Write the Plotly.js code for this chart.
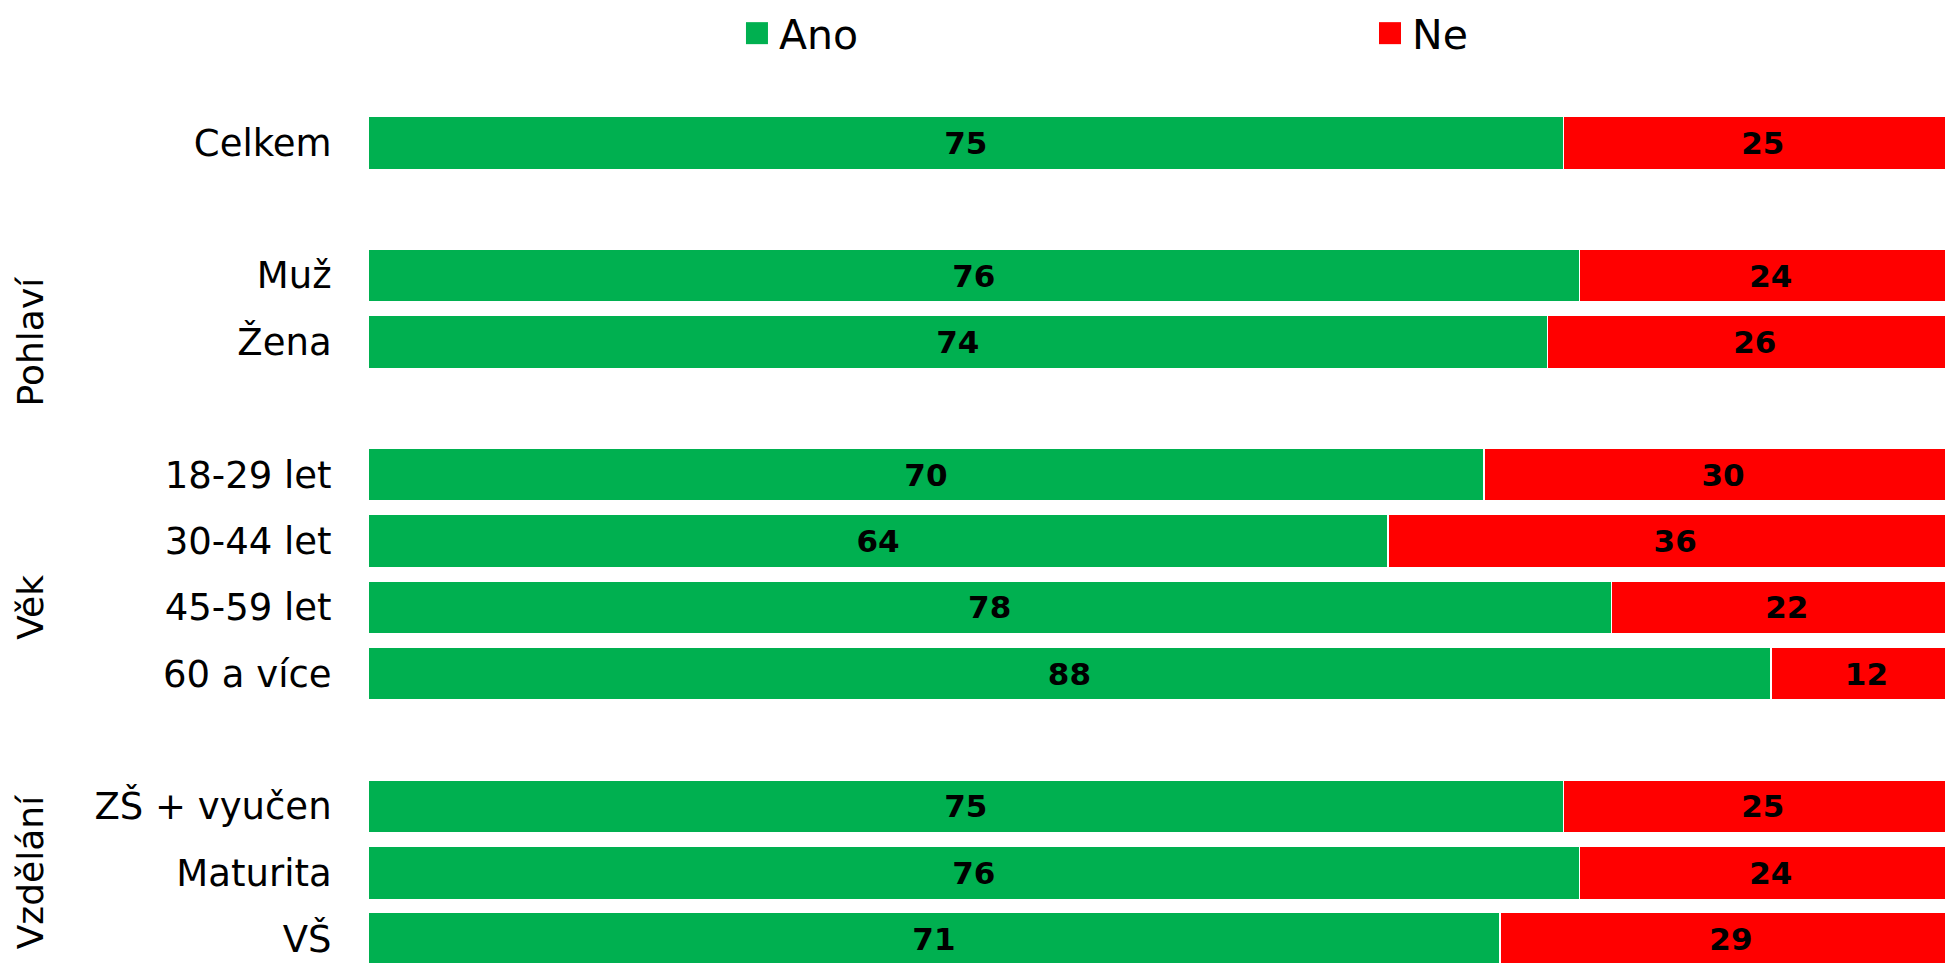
<!DOCTYPE html>
<html>
<head>
<meta charset="utf-8">
<script src="https://cdn.plot.ly/plotly-3.0.1.min.js"></script>
<style>
html,body{margin:0;padding:0;background:#fff;}
#chart{width:1945px;height:963px;}
</style>
</head>
<body>
<div id="chart"></div>
<script>
// Data
const categories = ["Celkem","Muž","Žena","18-29 let","30-44 let","45-59 let","60 a více","ZŠ + vyučen","Maturita","VŠ"];
const ano = [75,76,74,70,64,78,88,75,76,71];
const ne  = [25,24,26,30,36,22,12,25,24,29];
const groupNames = ["Pohlaví","Věk","Vzdělání"];
const groupSizes = [1,2,4,3];          // Celkem, then the three groups
const groupLabelAt = ["Žena","45-59 let","Maturita"];
const seriesNames = ["Ano","Ne"];
const seriesColors = ["#00B050","#FF0000"];

// Build category order with blank spacer rows between groups
const order = [];
let k = 0;
groupSizes.forEach((n, gi) => {
  if (gi > 0) order.push(" ".repeat(gi));
  for (let i = 0; i < n; i++) order.push(categories[k++]);
});

const FONT = "DejaVu Sans, Verdana, sans-serif";
const legendIds = ["legend", "legend2"];

const traces = [ano, ne].map((vals, si) => ({
  type: "bar",
  orientation: "h",
  name: seriesNames[si],
  legend: legendIds[si],
  y: categories,
  x: vals,
  text: vals.map(String),
  textposition: "inside",
  insidetextanchor: "middle",
  constraintext: "none",
  textfont: {family: FONT, size: 31, color: "#000", weight: "bold"},
  marker: {color: seriesColors[si], line: {color: "#ffffff", width: 1.5}},
  hoverinfo: "x+y+name"
}));

const annotations = groupNames.map((g, i) => ({
  text: g,
  xref: "paper", yref: "y",
  x: -0.214, y: groupLabelAt[i],
  xanchor: "center", yanchor: "middle",
  textangle: -90,
  showarrow: false,
  font: {family: FONT, size: 36, color: "#000"}
}));

const legendBase = {
  orientation: "h",
  xanchor: "left",
  y: 1.081, yanchor: "middle",
  itemwidth: 34,
  font: {family: FONT, size: 41, color: "#000"},
  bgcolor: "rgba(0,0,0,0)"
};

const layout = {
  width: 1945, height: 963,
  margin: {l: 368, r: 0, t: 100, b: 0, pad: 0},
  paper_bgcolor: "#ffffff",
  plot_bgcolor: "#ffffff",
  barmode: "stack",
  bargap: 0.2,
  showlegend: true,
  legend: Object.assign({}, legendBase, {x: 0.2327}),
  legend2: Object.assign({}, legendBase, {x: 0.6341}),
  xaxis: {
    range: [0, 98.93],
    showgrid: false, zeroline: false, showline: false,
    showticklabels: false, ticks: ""
  },
  yaxis: {
    type: "category",
    categoryorder: "array",
    categoryarray: order,
    range: [12.36, -0.6],
    showgrid: false, zeroline: false, showline: false,
    ticks: "outside", ticklen: 28, tickcolor: "rgba(0,0,0,0)",
    tickfont: {family: FONT, size: 37, color: "#000"}
  },
  annotations: annotations
};

Plotly.newPlot("chart", traces, layout, {displayModeBar: false, staticPlot: true}).then(gd => {
  // enlarge legend colour boxes to match the reference
  gd.querySelectorAll(".legendpoints path").forEach(p => {
    p.setAttribute("d", "M11,11H-11V-11H11Z");
    p.style.strokeWidth = "0px";
  });
});
</script>
</body>
</html>
